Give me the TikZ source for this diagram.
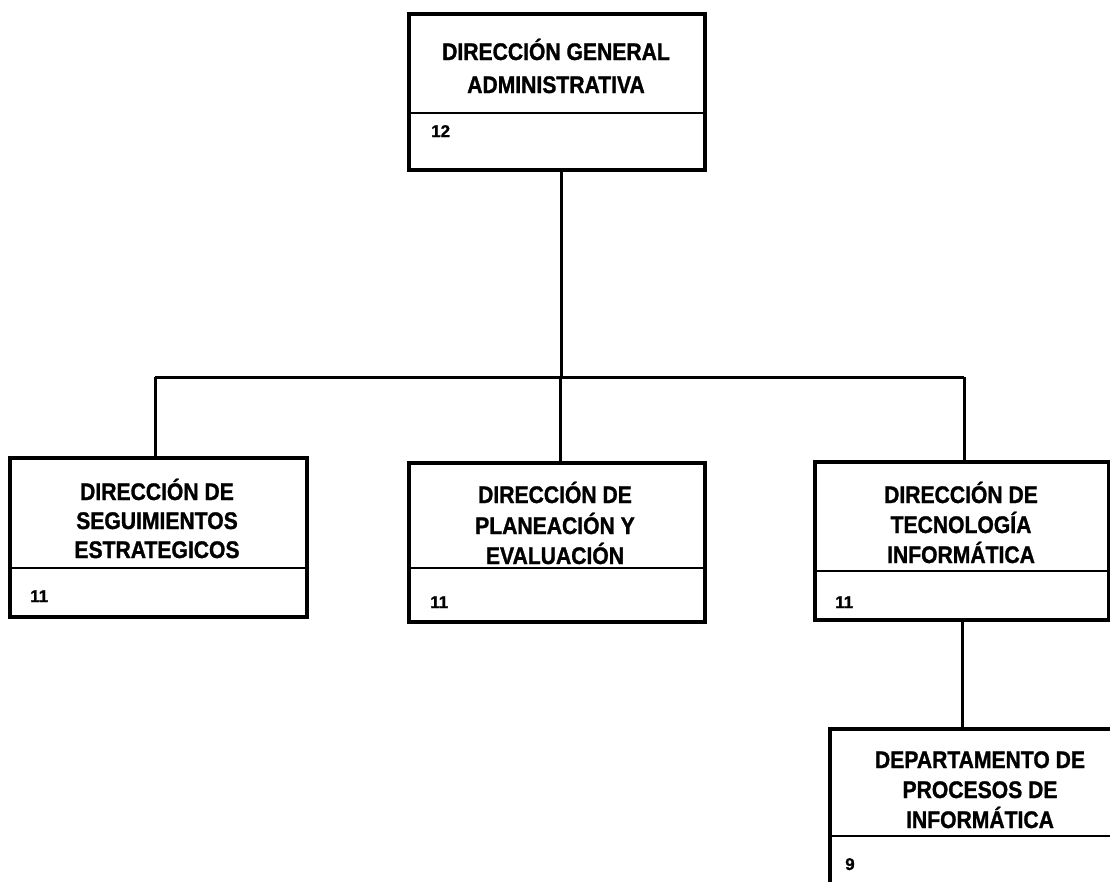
\documentclass[tikz,border=0pt]{standalone}
\usepackage{fontspec}
\setmainfont{Liberation Sans}
\newfontfamily\orgfont[FakeStretch=0.88,FakeBold=1.2]{Liberation Sans}
\newfontfamily\numfont[FakeBold=0.8]{Liberation Sans}
\begin{document}
\begin{tikzpicture}[x=1pt,y=-1pt,
  orgbox/.style={draw, line width=4pt, anchor=north west, inner sep=0pt},
  divline/.style={line width=2pt},
  conn/.style={line width=3pt},
  lbl/.style={anchor=base, inner sep=0pt, font=\orgfont\bfseries\fontsize{24}{29}\selectfont},
  num/.style={anchor=base west, inner sep=0pt, font=\numfont\bfseries\fontsize{17}{20}\selectfont}]
\useasboundingbox (0,0) rectangle (1110,881);
\clip (0,0) rectangle (1110,881);
\fill[white] (0,0) rectangle (1110,881);
% boxes
\node[orgbox, minimum width=296pt, minimum height=156pt] (top) at (407,12) {};
\node[orgbox, minimum width=297pt, minimum height=159pt] (left) at (8,456) {};
\node[orgbox, minimum width=296pt, minimum height=159pt] (mid) at (407,461) {};
\node[orgbox, minimum width=294pt, minimum height=158pt] (right) at (813,460) {};
\node[orgbox, minimum width=310pt, minimum height=200pt] (bot) at (828,727) {};
% dividers
\draw[divline] (top.west |- 0,113) -- (top.east |- 0,113);
\draw[divline] (left.west |- 0,568) -- (left.east |- 0,568);
\draw[divline] (mid.west |- 0,568) -- (mid.east |- 0,568);
\draw[divline] (right.west |- 0,571) -- (right.east |- 0,571);
\draw[divline] (bot.west |- 0,836) -- (bot.east |- 0,836);
% connectors
\coordinate (j) at (561,377);
\coordinate (jl) at (155,377);
\coordinate (jm) at (560,377);
\coordinate (jr) at (964,377);
\draw[conn] (top.south -| j) -- (j);
\draw[conn] (jl) -- (jr);
\draw[conn] (jl) -- (left.north -| jl);
\draw[conn] (jm) -- (mid.north -| jm);
\draw[conn] (jr) -- (right.north -| jr);
\coordinate (jb) at (962,0);
\draw[conn] (right.south -| jb) -- (bot.north -| jb);
% texts
\node[lbl] (t1) at (556,60) {DIRECCIÓN GENERAL};
\node[lbl] (t2) at (556,93) {ADMINISTRATIVA};
\node[num] (n1) at (431,137) {12};
\node[lbl] (l1) at (157,500) {DIRECCIÓN DE};
\node[lbl] (l2) at (157,529) {SEGUIMIENTOS};
\node[lbl] (l3) at (157,558) {ESTRATEGICOS};
\node[num] (n2) at (30,602) {11};
\node[lbl] (m1) at (555,503) {DIRECCIÓN DE};
\node[lbl] (m2) at (555,534) {PLANEACIÓN Y};
\node[lbl] (m3) at (555,564) {EVALUACIÓN};
\node[num] (n3) at (430,608) {11};
\node[lbl] (r1) at (961,503) {DIRECCIÓN DE};
\node[lbl] (r2) at (961,533) {TECNOLOGÍA};
\node[lbl] (r3) at (961,563) {INFORMÁTICA};
\node[num] (n4) at (835,608) {11};
\node[lbl] (b1) at (980,768) {DEPARTAMENTO DE};
\node[lbl] (b2) at (980,798) {PROCESOS DE};
\node[lbl] (b3) at (980,828) {INFORMÁTICA};
\node[num] (n5) at (845,870) {9};
\end{tikzpicture}
\end{document}
